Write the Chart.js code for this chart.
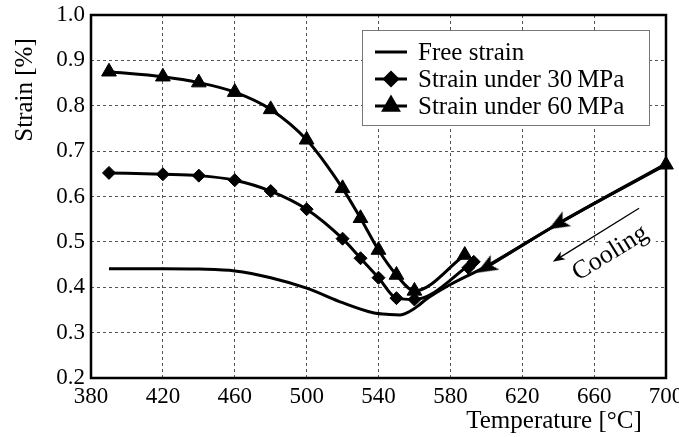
<!DOCTYPE html>
<html>
<head>
<meta charset="utf-8">
<script src="https://cdn.jsdelivr.net/npm/chart.js@4.4.0/dist/chart.umd.min.js"></script>
<style>
  html, body { margin: 0; padding: 0; background: #fff; }
  #wrap { width: 679px; height: 437px; }
</style>
</head>
<body>
<div id="wrap"><canvas id="strainChart"></canvas></div>
<script>
// Temperature [°C] and strain [%] (cooling from 700 °C)
// a null pair breaks the line
const freeTemp   = [700, 640, 600, 580, 566, 562, 557, 552, 546, 537, 520, 500, 480, 460, 440, 420, 390];
const freeStrain = [0.672, 0.54, 0.446, 0.406, 0.372, 0.359, 0.346, 0.339, 0.34, 0.344, 0.366, 0.398, 0.421, 0.436, 0.44, 0.441, 0.441];

const temp30   = [590, null, 593, 560, 550, 540, 530, 520, 500, 480, 460, 440, 420, 390];
const strain30 = [0.443, null, 0.456, 0.373, 0.376, 0.421, 0.464, 0.507, 0.572, 0.612, 0.636, 0.646, 0.649, 0.652];

const temp60   = [700, 640, 600, null, 588, 560, 550, 540, 530, 520, 500, 480, 460, 440, 420, 390];
const strain60 = [0.67, 0.54, 0.444, null, 0.471, 0.392, 0.427, 0.482, 0.552, 0.618, 0.725, 0.792, 0.83, 0.851, 0.864, 0.875];

const seriesNames = ['Free strain', 'Strain under 30\u2009MPa', 'Strain under 60\u2009MPa'];

const xTicks = [380, 420, 460, 500, 540, 580, 620, 660, 700];
const yTicks = [0.2, 0.3, 0.4, 0.5, 0.6, 0.7, 0.8, 0.9, 1.0];

// "Cooling" arrow (data coordinates)
const coolFrom = [685, 0.574];
const coolTo = [637, 0.456];
const coolText = [669, 0.475];

const FONT = 'Liberation Serif';

const toPoints = (xs, ys) => xs.map((x, i) => ({ x: x, y: ys[i] }));

// stealth arrow head used on the common cooling branch
const arrowHead = document.createElement('canvas');
arrowHead.width = 26;
arrowHead.height = 26;
(function () {
  const c = arrowHead.getContext('2d');
  c.translate(13, 13);
  c.fillStyle = '#000';
  c.beginPath();
  c.moveTo(11, 0);
  c.lineTo(-10, -8.5);
  c.lineTo(-5, 0);
  c.lineTo(-10, 8.5);
  c.closePath();
  c.fill();
})();

const style60 = temp60.map(t => (t === 640 || t === 600) ? arrowHead : 'triangle');
const rot60 = temp60.map(t => (t === 640 || t === 600) ? 150 : 0);

const data = {
  datasets: [
    {
      label: seriesNames[0],
      data: toPoints(freeTemp, freeStrain),
      borderColor: '#000',
      borderWidth: 3,
      pointRadius: 0,
      pointStyle: false,
      clip: false,
      cubicInterpolationMode: 'monotone'
    },
    {
      label: seriesNames[1],
      data: toPoints(temp30, strain30),
      borderColor: '#000',
      backgroundColor: '#000',
      borderWidth: 3,
      pointStyle: 'rectRot',
      pointRadius: 6.5,
      pointBorderWidth: 1,
      spanGaps: false,
      clip: false,
      cubicInterpolationMode: 'monotone'
    },
    {
      label: seriesNames[2],
      data: toPoints(temp60, strain60),
      borderColor: '#000',
      backgroundColor: '#000',
      borderWidth: 3,
      pointStyle: style60,
      pointRadius: 8.5,
      pointRotation: rot60,
      pointBorderWidth: 1,
      spanGaps: false,
      clip: false,
      cubicInterpolationMode: 'monotone'
    }
  ]
};

// frame, axis titles, legend box and the cooling arrow
const decorations = {
  id: 'decorations',
  beforeDatasetsDraw(chart) {
    const { ctx, chartArea: a } = chart;
    ctx.save();
    ctx.strokeStyle = '#000';
    ctx.lineWidth = 2.5;
    ctx.strokeRect(a.left, a.top, a.right - a.left, a.bottom - a.top);

    // Cooling arrow + label
    const xs = chart.scales.x, ys = chart.scales.y;
    const x0 = xs.getPixelForValue(coolFrom[0]), y0 = ys.getPixelForValue(coolFrom[1]);
    const x1 = xs.getPixelForValue(coolTo[0]), y1 = ys.getPixelForValue(coolTo[1]);
    const ang = Math.atan2(y0 - y1, x0 - x1);
    const tx = xs.getPixelForValue(coolText[0]), ty = ys.getPixelForValue(coolText[1]);
    ctx.save();
    ctx.translate(tx, ty);
    ctx.rotate(ang);
    ctx.font = '26px "' + FONT + '"';
    const w = ctx.measureText('Cooling').width;
    ctx.fillStyle = '#fff';
    ctx.fillRect(-w / 2 - 3, -15, w + 6, 30);
    ctx.fillStyle = '#000';
    ctx.textAlign = 'center';
    ctx.textBaseline = 'middle';
    ctx.fillText('Cooling', 0, 0);
    ctx.restore();

    ctx.lineWidth = 1.3;
    ctx.beginPath();
    ctx.moveTo(x0, y0);
    ctx.lineTo(x1 + Math.cos(ang) * 8, y1 + Math.sin(ang) * 8);
    ctx.stroke();
    ctx.fillStyle = '#000';
    ctx.beginPath();
    ctx.moveTo(x1, y1);
    ctx.lineTo(x1 + Math.cos(ang + 0.35) * 13, y1 + Math.sin(ang + 0.35) * 13);
    ctx.lineTo(x1 + Math.cos(ang) * 9, y1 + Math.sin(ang) * 9);
    ctx.lineTo(x1 + Math.cos(ang - 0.35) * 13, y1 + Math.sin(ang - 0.35) * 13);
    ctx.closePath();
    ctx.fill();

    // axis titles
    ctx.fillStyle = '#000';
    ctx.font = '25px "' + FONT + '"';
    ctx.textAlign = 'center';
    ctx.textBaseline = 'middle';
    ctx.fillText('Temperature [\u00B0C]', 554, 421);
    ctx.save();
    ctx.translate(25, 90);
    ctx.rotate(-Math.PI / 2);
    ctx.fillText('Strain [%]', 0, 0);
    ctx.restore();
    ctx.restore();
  },
  afterDatasetsDraw(chart) {
    const { ctx, chartArea: a } = chart;
    const bx = a.right - 304, by = a.top + 15, bw = 287, bh = 95;
    ctx.save();
    ctx.fillStyle = '#fff';
    ctx.fillRect(bx, by, bw, bh);
    ctx.strokeStyle = '#777';
    ctx.lineWidth = 1;
    ctx.strokeRect(bx + 0.5, by + 0.5, bw, bh);
    chart.data.datasets.forEach((ds, i) => {
      const y = by + 22 + i * 27;
      ctx.strokeStyle = '#000';
      ctx.fillStyle = '#000';
      ctx.lineWidth = 3;
      ctx.beginPath();
      ctx.moveTo(bx + 13, y);
      ctx.lineTo(bx + 45, y);
      ctx.stroke();
      const ps = Array.isArray(ds.pointStyle) ? ds.pointStyle[0] : ds.pointStyle;
      if (ps) {
        Chart.helpers.drawPoint(ctx, {
          pointStyle: ps,
          radius: ds.pointRadius,
          rotation: 0,
          borderWidth: 1
        }, bx + 29, y);
      }
      ctx.font = '25px "' + FONT + '"';
      ctx.textAlign = 'left';
      ctx.textBaseline = 'middle';
      ctx.fillText(ds.label, bx + 56, y + 1);
    });
    ctx.restore();
  }
};

const config = {
  type: 'line',
  data: data,
  options: {
    responsive: true,
    maintainAspectRatio: false,
    animation: false,
    layout: { padding: { top: 15, right: 13, left: 0, bottom: 0 } },
    plugins: {
      legend: { display: false },
      tooltip: { enabled: false }
    },
    elements: { line: { fill: false } },
    scales: {
      x: {
        type: 'linear',
        min: 380,
        max: 700,
        afterBuildTicks: s => { s.ticks = xTicks.map(v => ({ value: v })); },
        afterFit: s => { s.height = 59; s.paddingLeft = 0; s.paddingRight = 0; },
        ticks: {
          color: '#000',
          padding: 5,
          font: { family: FONT, size: 23 },
          callback: v => String(v)
        },
        grid: { color: '#555', lineWidth: 1, drawTicks: false, tickLength: 0 },
        border: { display: false, dash: [3, 3] }
      },
      y: {
        type: 'linear',
        min: 0.2,
        max: 1.0,
        afterBuildTicks: s => { s.ticks = yTicks.map(v => ({ value: v })); },
        afterFit: s => { s.width = 91; s.paddingTop = 0; s.paddingBottom = 0; },
        ticks: {
          color: '#000',
          padding: 6,
          font: { family: FONT, size: 23 },
          callback: v => Number(v).toFixed(1)
        },
        grid: { color: '#555', lineWidth: 1, drawTicks: false, tickLength: 0 },
        border: { display: false, dash: [3, 3] }
      }
    }
  },
  plugins: [decorations]
};

new Chart(document.getElementById('strainChart'), config);
</script>
</body>
</html>
